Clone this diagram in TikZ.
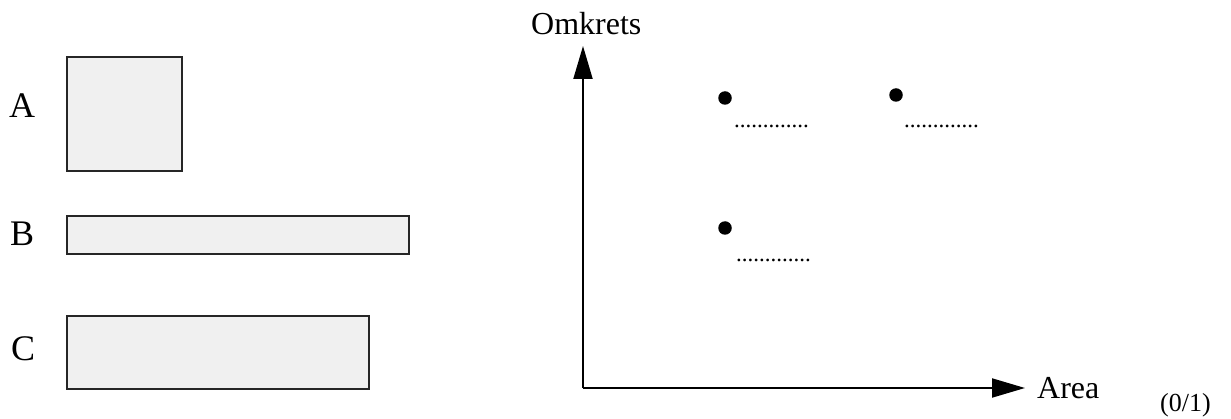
\documentclass[tikz,border=0pt]{standalone}
\usepackage{fontspec}
\setmainfont{Liberation Serif}
\usetikzlibrary{arrows.meta}
\tikzset{
  shapebox/.style={draw=black!85, line width=1.5pt, fill=black!6},
  axis/.style={line width=2pt, draw=black, -{Triangle[length=33pt,width=19pt]}},
  bigletter/.style={font=\fontsize{36}{40}\selectfont, anchor=base west, inner sep=0pt},
  axislabel/.style={font=\fontsize{32}{36}\selectfont, anchor=base west, inner sep=0pt},
  point/.style={circle, fill=black, inner sep=0pt, minimum size=13.5pt},
  blank/.style={font=\fontsize{23}{24}\selectfont, anchor=base west, inner sep=0pt},
}
\begin{document}
\begin{tikzpicture}[x=1pt, y=-1pt]
  \useasboundingbox (0,0) rectangle (1231,419);

  % the three rectangles
  \draw[shapebox] (67,57) rectangle (182,171);
  \draw[shapebox] (67,216) rectangle (409,254);
  \draw[shapebox] (67,316) rectangle (369,389);
  \node[bigletter] (la) at (9,118) {A};
  \node[bigletter] (lb) at (10,246) {B};
  \node[bigletter] (lc) at (11,361) {C};

  % axes
  \coordinate (origin) at (583,388);
  \coordinate (ytip) at (583,46);
  \coordinate (xtip) at (1025,388);
  \draw[axis] (origin) -- (ytip);
  \draw[axis] (origin) -- (xtip);
  \node[axislabel] (ylab) at (531,35) {Omkrets};
  \node[axislabel] (xlab) at (1037,398) {Area};
  \node[font=\fontsize{26}{28}\selectfont, anchor=base west, inner sep=0pt] (score) at (1160,411) {(0/1)};

  % points with blanks to fill in
  \node[point] (p1) at (725,98) {};
  \node[point] (p2) at (896,95) {};
  \node[point] (p3) at (725,228) {};
  \node[blank] (b1) at (734,128) {.............};
  \node[blank] (b2) at (904,128) {.............};
  \node[blank] (b3) at (736,262) {.............};
\end{tikzpicture}
\end{document}
